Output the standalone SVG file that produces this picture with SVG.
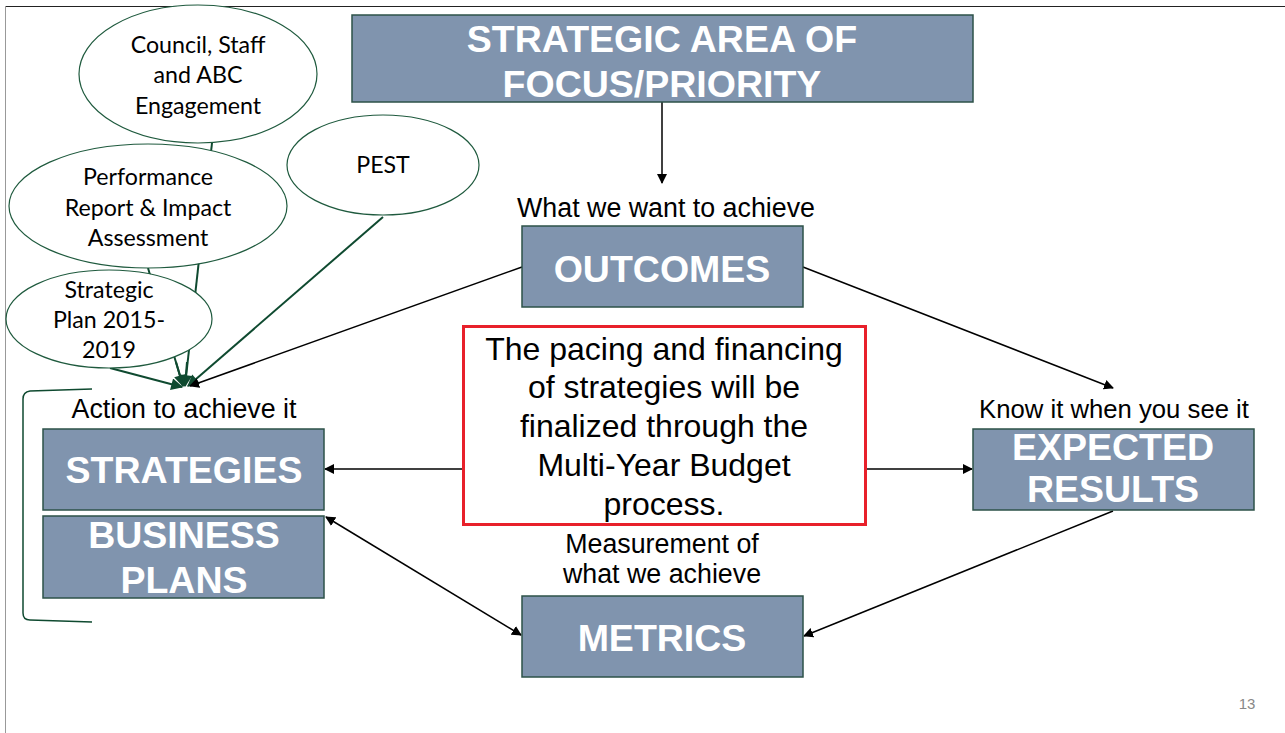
<svg xmlns="http://www.w3.org/2000/svg" width="1285" height="733" viewBox="0 0 1285 733">
<defs>
<style>
.box{fill:#8094ae;stroke:#2d5248;stroke-width:1.5}
.bt{font-family:"Liberation Sans",Arial,sans-serif;font-weight:bold;fill:#fff;text-anchor:middle;font-size:37.5px}
.lbl{font-family:"Liberation Sans",Arial,sans-serif;fill:#000;text-anchor:middle;font-size:26.8px}
.lbl.sm{font-size:25.7px}
.ell{fill:#fff;stroke:#1f5a3e;stroke-width:1.2}
.et{font-family:Lato,"Open Sans",sans-serif;fill:#000;text-anchor:middle;font-size:23.2px}
.con{stroke:#000;stroke-width:1.5;fill:none}
.gcon{stroke:#0f4a30;stroke-width:2;fill:none}
</style>
<marker id="ah" viewBox="0 0 10 10" refX="9" refY="5" markerWidth="10" markerHeight="10" markerUnits="userSpaceOnUse" orient="auto-start-reverse"><path d="M0,0 L10,5 L0,10 z" fill="#000"/></marker>
<marker id="gh" viewBox="0 0 10 10" refX="9" refY="5" markerWidth="14" markerHeight="12" markerUnits="userSpaceOnUse" orient="auto"><path d="M0,0 L10,5 L0,10 z" fill="#0f4a30"/></marker>
</defs>
<rect width="1285" height="733" fill="#fff"/>
<line x1="5" y1="6.5" x2="1285" y2="6.5" stroke="#222" stroke-width="1.2"/>
<line x1="5.5" y1="6" x2="5.5" y2="733" stroke="#999" stroke-width="1"/>

<g id="connectors">
<line class="gcon" x1="212" y1="143" x2="185" y2="386" marker-end="url(#gh)"/>
<line class="gcon" x1="148" y1="268" x2="183" y2="386" marker-end="url(#gh)"/>
<line class="gcon" x1="110" y1="368" x2="182" y2="387" marker-end="url(#gh)"/>
<line class="gcon" x1="383" y1="217" x2="188" y2="386" marker-end="url(#gh)"/>
<line class="con" x1="522" y1="267" x2="190" y2="386" marker-end="url(#ah)"/>
<line class="con" x1="662" y1="102" x2="662" y2="183" marker-end="url(#ah)"/>
<line class="con" x1="803" y1="267" x2="1113" y2="388" marker-end="url(#ah)"/>
<line class="con" x1="463" y1="469" x2="325" y2="469" marker-end="url(#ah)"/>
<line class="con" x1="866" y1="469" x2="972" y2="469" marker-end="url(#ah)"/>
<line class="con" x1="1113" y1="511" x2="804" y2="636" marker-end="url(#ah)"/>
<line class="con" x1="326" y1="517" x2="521" y2="635" marker-start="url(#ah)" marker-end="url(#ah)"/>
<path d="M92,389 L30,391 Q23,392 23,399 L23,613 Q23,620 30,620 L92,622" fill="none" stroke="#0f4a30" stroke-width="1.5"/>
</g>

<g id="council">
<ellipse class="ell" cx="198" cy="74" rx="119" ry="69"/>
<text class="et" x="198" y="53">Council, Staff</text>
<text class="et" x="198" y="83">and ABC</text>
<text class="et" x="198" y="114">Engagement</text>
</g>
<g id="performance">
<ellipse class="ell" cx="148" cy="206" rx="139" ry="62"/>
<text class="et" x="148" y="185">Performance</text>
<text class="et" x="148" y="216">Report &amp; Impact</text>
<text class="et" x="148" y="246">Assessment</text>
</g>
<g id="pest">
<ellipse class="ell" cx="383" cy="165" rx="96" ry="50"/>
<text class="et" x="383" y="173">PEST</text>
</g>
<g id="stratplan">
<ellipse class="ell" cx="109" cy="319" rx="103" ry="49"/>
<text class="et" x="109" y="298">Strategic</text>
<text class="et" x="109" y="328">Plan 2015-</text>
<text class="et" x="109" y="358">2019</text>
</g>
<g id="redraw-lines">
<line class="gcon" x1="176" y1="362" x2="183" y2="386"/>
<line class="gcon" x1="187" y1="362" x2="185" y2="386"/>
</g>

<g id="focus">
<rect class="box" x="352" y="15" width="621" height="87"/>
<text class="bt" x="662" y="52">STRATEGIC AREA OF</text>
<text class="bt" x="662" y="97">FOCUS/PRIORITY</text>
</g>
<g id="outcomes">
<text class="lbl" x="666" y="217">What we want to achieve</text>
<rect class="box" x="522" y="226" width="281" height="81"/>
<text class="bt" x="662" y="282">OUTCOMES</text>
</g>
<g id="note">
<rect x="463.5" y="326.5" width="402" height="198" fill="#fff" stroke="#e8202a" stroke-width="3"/>
<g font-family="Liberation Sans,Arial,sans-serif" font-size="32" text-anchor="middle" fill="#000">
<text x="664" y="360">The pacing and financing</text>
<text x="664" y="398">of strategies will be</text>
<text x="664" y="437">finalized through the</text>
<text x="664" y="476">Multi-Year Budget</text>
<text x="664" y="515">process.</text>
</g>
</g>
<g id="strategies">
<text class="lbl" x="184" y="418">Action to achieve it</text>
<rect class="box" x="43" y="429" width="281" height="81"/>
<text class="bt" x="184" y="483">STRATEGIES</text>
</g>
<g id="business">
<rect class="box" x="43" y="516" width="281" height="82"/>
<text class="bt" x="184" y="548">BUSINESS</text>
<text class="bt" x="184" y="593">PLANS</text>
</g>
<g id="expected">
<text class="lbl sm" x="1114" y="418">Know it when you see it</text>
<rect class="box" x="973" y="429" width="281" height="81"/>
<text class="bt" x="1113" y="460">EXPECTED</text>
<text class="bt" x="1113" y="502">RESULTS</text>
</g>
<g id="metrics">
<text class="lbl" x="662" y="553">Measurement of</text>
<text class="lbl" x="662" y="583">what we achieve</text>
<rect class="box" x="522" y="596" width="281" height="81"/>
<text class="bt" x="662" y="651">METRICS</text>
</g>
<text x="1247" y="709" font-family="Liberation Sans,Arial,sans-serif" font-size="15" fill="#888" text-anchor="middle">13</text>
</svg>
